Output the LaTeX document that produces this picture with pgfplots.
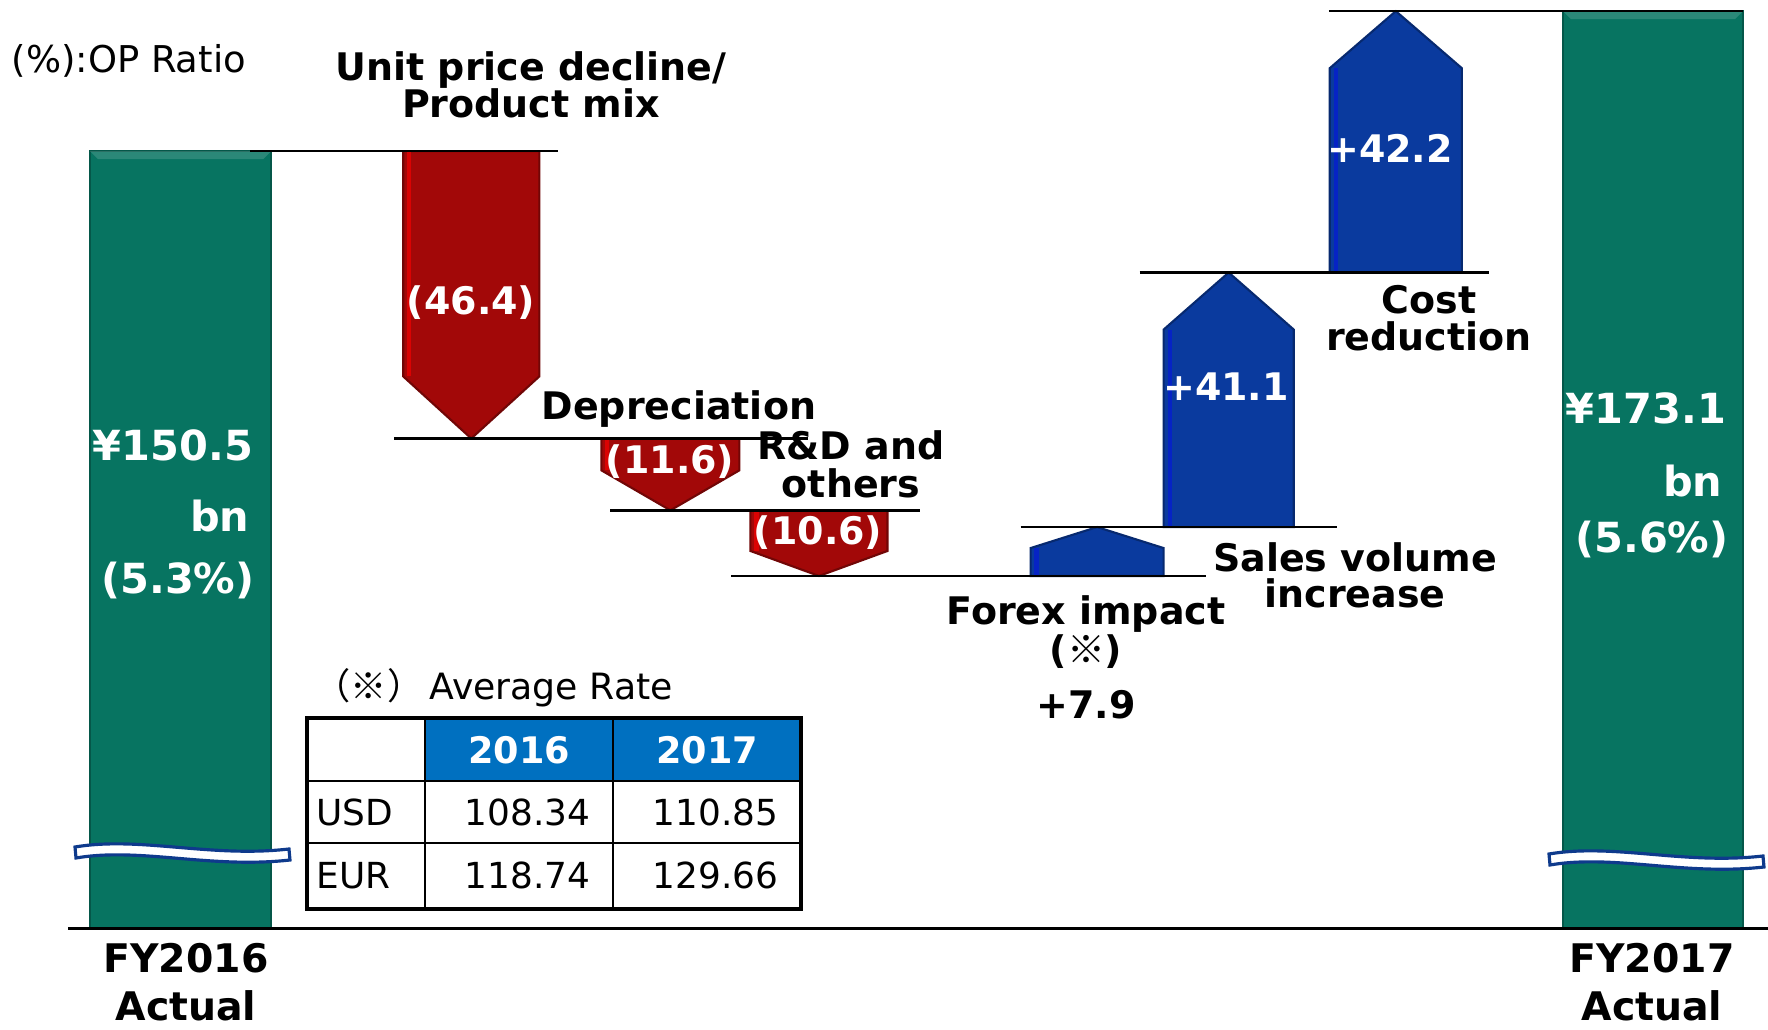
\documentclass[border=0pt]{standalone}
\usepackage{fontspec}
\setmainfont{DejaVu Sans}
\newfontfamily\jp{Noto Sans CJK JP}
\usepackage{pgfplots}
\pgfplotsset{compat=1.18}
\usetikzlibrary{calc}

\definecolor{barGreen}{HTML}{077461}
\definecolor{arrRed}{HTML}{A20808}
\definecolor{arrBlue}{HTML}{0A3A9E}
\definecolor{hdrBlue}{HTML}{0070C0}
\definecolor{brkBlue}{HTML}{0E3A8C}

% total bar: x left, x right, value (axis broken at 25)
\newcommand\totbar[3]{%
  \fill[barGreen, draw=barGreen!75!black, line width=0.6pt] (axis cs:#1,25) rectangle (axis cs:#2,#3);
  \fill[white, opacity=0.15] (axis cs:#1,#3) -- (axis cs:#2,#3)
    -- ([xshift=-0.08cm,yshift=-0.08cm]axis cs:#2,#3) -- ([xshift=0.08cm,yshift=-0.08cm]axis cs:#1,#3) -- cycle;}
% down arrow: x left, x right, from, to, head height
\newcommand\downarr[5]{%
  \fill[arrRed, draw=arrRed!70!black, line width=0.6pt]
    (axis cs:#1,#3) -- (axis cs:#2,#3) -- ([yshift=#5]axis cs:#2,#4)
    -- ($(axis cs:#1,#4)!0.5!(axis cs:#2,#4)$) -- ([yshift=#5]axis cs:#1,#4) -- cycle;
  \draw[red!60!arrRed, line width=1.2pt] ([xshift=0.06cm]axis cs:#1,#3) -- ([xshift=0.06cm,yshift=#5]axis cs:#1,#4);}
% up arrow: x left, x right, from, to, head height
\newcommand\uparr[5]{%
  \fill[arrBlue, draw=arrBlue!70!black, line width=0.6pt]
    (axis cs:#1,#3) -- (axis cs:#2,#3) -- ([yshift=-#5]axis cs:#2,#4)
    -- ($(axis cs:#1,#4)!0.5!(axis cs:#2,#4)$) -- ([yshift=-#5]axis cs:#1,#4) -- cycle;
  \draw[blue!40!arrBlue, line width=1.2pt] ([xshift=0.06cm]axis cs:#1,#3) -- ([xshift=0.06cm,yshift=-#5]axis cs:#1,#4);}
% axis break mark (pixel units)
\newcommand\brk[2]{%
  \filldraw[shift={(#1,#2)}, fill=white, draw=brkBlue, line width=0.9pt]
    (0,0) .. controls (65,-11) and (135,11) .. (214,2) -- (215,13)
    .. controls (135,22) and (65,0) .. (1,11) -- cycle;}

\tikzset{
  lb/.style={inner sep=0, anchor=base, font=\fontsize{10.8}{13}\selectfont\bfseries},
  wv/.style={inner sep=0, anchor=center, text=white, font=\fontsize{10.8}{13}\selectfont\bfseries},
  tb/.style={inner sep=0, anchor=base, text=white, font=\fontsize{11.8}{14}\selectfont\bfseries},
  tt/.style={inner sep=0, font=\fontsize{10.2}{12}\selectfont},
  fy/.style={inner sep=0, anchor=base, font=\fontsize{11.2}{14}\selectfont\bfseries},
}

\begin{document}
\begin{tikzpicture}
\begin{axis}[
  scale only axis, width=17.68cm, height=10.29cm,
  xmin=0, xmax=1768, ymin=8.66, ymax=174.9,
  hide axis, clip=false,
]
\coordinate (TL) at (rel axis cs:0,1);
% FY2016 / FY2017 totals
\totbar{90}{271}{150.5}
\totbar{1562}{1742}{173.1}
% bridge steps: 150.5 -46.4 -11.6 -10.6 +7.9 +41.1 +42.2 = 173.1
\downarr{403}{539}{150.5}{104.1}{0.62cm}
\downarr{601}{739}{104.1}{92.5}{0.40cm}
\downarr{750}{887}{92.5}{81.9}{0.25cm}
\uparr{1030}{1163}{81.9}{89.8}{0.21cm}
\uparr{1163}{1293}{89.8}{130.9}{0.57cm}
\uparr{1329}{1461}{130.9}{173.1}{0.57cm}
% level lines
\addplot[black, line width=0.7pt] coordinates {(250,150.5) (558,150.5)};
\addplot[black, line width=0.7pt] coordinates {(394,104.1) (808,104.1)};
\addplot[black, line width=0.7pt] coordinates {(610,92.5) (919,92.5)};
\addplot[black, line width=0.7pt] coordinates {(731,81.9) (1205,81.9)};
\addplot[black, line width=0.7pt] coordinates {(1020,89.8) (1336,89.8)};
\addplot[black, line width=0.7pt] coordinates {(1139,130.9) (1488,130.9)};
\addplot[black, line width=0.7pt] coordinates {(1328,173.1) (1742,173.1)};
\addplot[black, line width=0.8pt] coordinates {(68,25) (1768,25)};
\end{axis}

\begin{scope}[shift={(TL)}, x=0.01cm, y=-0.01cm]
\brk{75}{847}
\brk{1549}{854}

\node[inner sep=0, anchor=base west, font=\fontsize{10.5}{13}\selectfont] at (11,72) {(\%):OP Ratio};
\node[lb] at (531,80) {Unit price decline/};
\node[lb] at (531,117) {Product mix};
\node[lb, anchor=base west] at (541,419) {Depreciation};
\node[lb] at (851,459) {R\&D and};
\node[lb] at (851,497) {others};
\node[lb] at (1086,624) {Forex impact};
\node[lb] at (1086,663) {({\jp ※})};
\node[lb] at (1086,718) {+7.9};
\node[lb] at (1355,571) {Sales volume};
\node[lb] at (1355,607) {increase};
\node[lb] at (1429,313) {Cost};
\node[lb] at (1429,350) {reduction};

\node[wv] at (471,303) {(46.4)};
\node[wv] at (670,462) {(11.6)};
\node[wv] at (818,533) {(10.6)};
\node[wv] at (1226,387) {+41.1};
\node[wv] at (1390,148) {+42.2};

\node[tb] at (173,460) {¥150.5};
\node[tb, anchor=base east] at (250,531) {bn};
\node[tb] at (178,593) {(5.3\%)};
\node[tb] at (1646,423) {¥173.1};
\node[tb, anchor=base east] at (1723,496) {bn};
\node[tb] at (1652,552) {(5.6\%)};

\node[fy] at (186,972) {FY2016};
\node[fy] at (186,1020) {Actual};
\node[fy] at (1652,972) {FY2017};
\node[fy] at (1652,1020) {Actual};

% average rate table
\node[inner sep=0, anchor=base west, font=\fontsize{10.3}{12}\selectfont] at (314,699) {{\jp （※）}\,Average Rate};
\fill[hdrBlue] (425,718) rectangle (801,781);
\draw[line width=0.85pt] (425,718) -- (425,909) (613,718) -- (613,909)
  (307,781) -- (801,781) (307,843) -- (801,843);
\draw[line width=1.2pt] (307,718) rectangle (801,909);
\node[tt, text=white, font=\fontsize{10.4}{12}\selectfont\bfseries] at (519,750) {2016};
\node[tt, text=white, font=\fontsize{10.4}{12}\selectfont\bfseries] at (707,750) {2017};
\node[tt, anchor=base west] at (316,825) {USD};
\node[tt, anchor=base west] at (316,888) {EUR};
\node[tt, anchor=base east] at (591,825) {108.34};
\node[tt, anchor=base east] at (779,825) {110.85};
\node[tt, anchor=base east] at (591,888) {118.74};
\node[tt, anchor=base east] at (779,888) {129.66};

\pgfresetboundingbox
\path[use as bounding box] (0,0) rectangle (1768,1029);
\end{scope}
\end{tikzpicture}
\end{document}
